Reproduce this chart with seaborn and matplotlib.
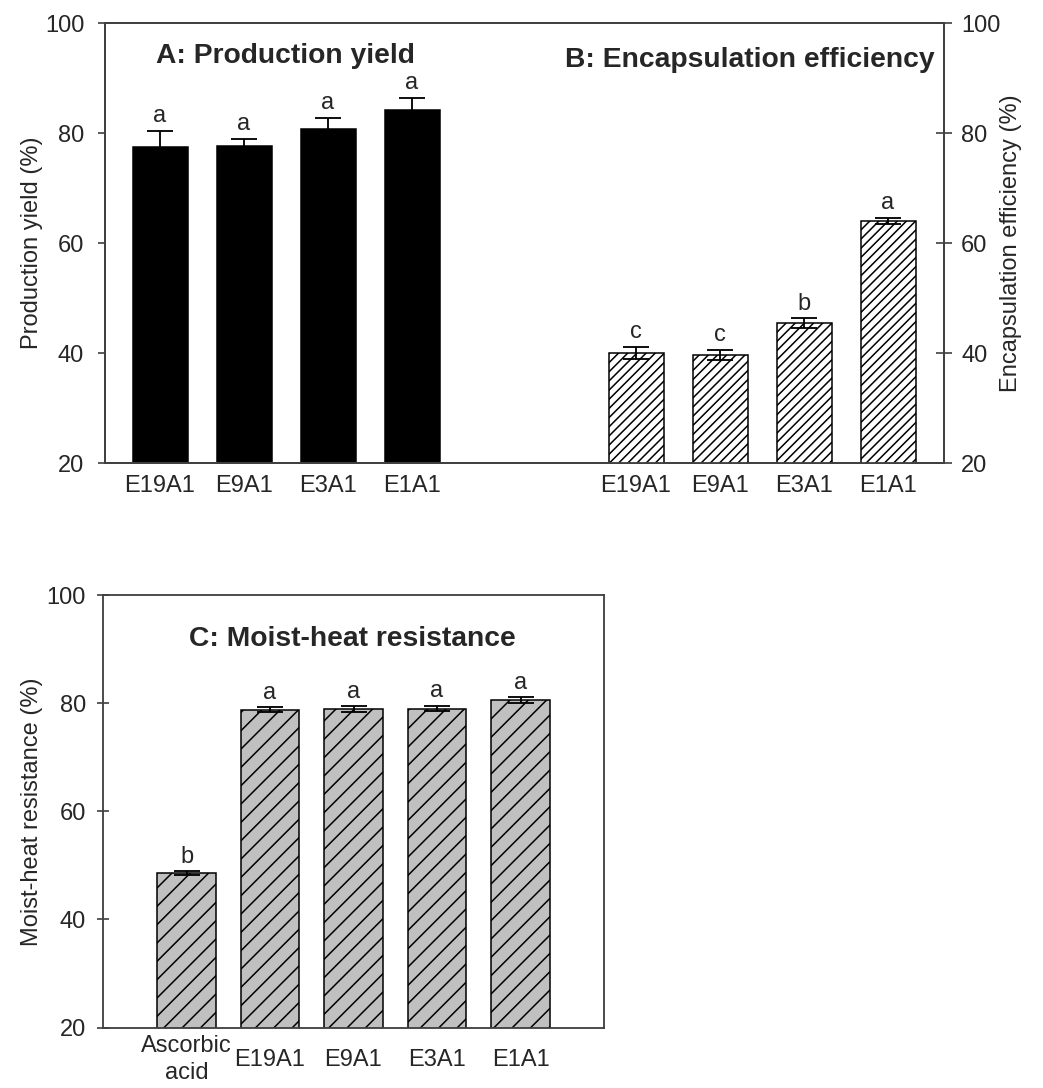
import numpy as np
import matplotlib
matplotlib.use('Agg')
import matplotlib.pyplot as plt
import seaborn as sns

# ---------------- data ----------------
samples = ['E19A1', 'E9A1', 'E3A1', 'E1A1']
yield_mean = [77.4, 77.6, 80.8, 84.1]
yield_err = [3.0, 1.4, 2.0, 2.3]
yield_letters = ['a', 'a', 'a', 'a']

ee_mean = [40.0, 39.6, 45.4, 64.0]
ee_err = [1.1, 0.9, 0.9, 0.6]
ee_letters = ['c', 'c', 'b', 'a']

mh_cats = ['Ascorbic\nacid', 'E19A1', 'E9A1', 'E3A1', 'E1A1']
mh_mean = [48.6, 78.8, 78.9, 79.0, 80.5]
mh_err = [0.3, 0.45, 0.5, 0.45, 0.55]
mh_letters = ['b', 'a', 'a', 'a', 'a']

y_ticks = [20, 40, 60, 80, 100]

# ---------------- style ----------------
DPI = 110
W, H = 1043, 1088
sns.set_style('white')
plt.rcParams['font.family'] = ['Liberation Sans', 'DejaVu Sans']
plt.rcParams['hatch.color'] = 'black'
plt.rcParams['hatch.linewidth'] = 1.0

SPINE = '#404040'
FS = 15.5
TITLE_FS = 18.5

fig = plt.figure(figsize=(W / DPI, H / DPI), dpi=DPI)


def px_axes(l, r, t, b):
    return fig.add_axes([l / W, 1 - b / H, (r - l) / W, (b - t) / H])


def style_spines(a):
    for s in a.spines.values():
        s.set_visible(True)
        s.set_color(SPINE)
        s.set_linewidth(1.2)


# ---------------- top panel (A + B) ----------------
ax = px_axes(105, 944, 23, 463)
ax2 = ax.twinx()

posA = np.arange(len(samples), dtype=float)
posB = posA + 5.667

sns.barplot(x=posA, y=yield_mean, native_scale=True, width=0.655,
            color='black', saturation=1, edgecolor='black', linewidth=1,
            errorbar=None, ax=ax)
ax.errorbar(posA, yield_mean, yerr=yield_err, fmt='none', ecolor='black',
            elinewidth=1.2, capsize=8.8, capthick=1.2)

sns.barplot(x=posB, y=ee_mean, native_scale=True, width=0.655,
            color='white', saturation=1, edgecolor='black', linewidth=1,
            errorbar=None, ax=ax2)
for p in ax2.patches:
    p.set_hatch('////')
ax2.errorbar(posB, ee_mean, yerr=ee_err, fmt='none', ecolor='black',
             elinewidth=1.2, capsize=8.8, capthick=1.2)

for x, m, e, t in zip(posA, yield_mean, yield_err, yield_letters):
    ax.text(x, m + e + 1.6, t, ha='center', va='baseline', fontsize=FS)
for x, m, e, t in zip(posB, ee_mean, ee_err, ee_letters):
    ax2.text(x, m + e + 1.6, t, ha='center', va='baseline', fontsize=FS)

for a in (ax, ax2):
    a.set_ylim(20, 100)
    a.set_yticks(y_ticks)
ax.set_xlim(-0.655, 9.333)
ax.set_xticks(np.concatenate([posA, posB]), labels=samples + samples)

style_spines(ax)
style_spines(ax2)
ax.tick_params(axis='y', direction='out', length=4.6, width=1.1, pad=9,
               color=SPINE, labelsize=FS, left=True)
ax.tick_params(axis='x', length=0, pad=8, labelsize=FS)
ax2.tick_params(axis='y', direction='inout', length=10.5, width=1.1, pad=6,
                color=SPINE, labelsize=FS, right=True)

ax.set_xlabel('')
ax.set_ylabel('Production yield (%)', fontsize=FS)
ax.yaxis.set_label_coords(-0.074, 0.5)
ax2.set_ylabel('Encapsulation efficiency (%)', fontsize=FS)
ax2.yaxis.set_label_coords(1.0667, 0.5)

ax.text(0.0608, 0.909, 'A: Production yield', transform=ax.transAxes,
        ha='left', va='baseline', fontsize=TITLE_FS, fontweight='bold')
ax.text(0.989, 0.90, 'B: Encapsulation efficiency', transform=ax.transAxes,
        ha='right', va='baseline', fontsize=TITLE_FS, fontweight='bold')

# ---------------- bottom panel (C) ----------------
ax3 = px_axes(103, 604, 595, 1027.5)
sns.barplot(x=mh_cats, y=mh_mean, order=mh_cats, width=0.7,
            color='#c0c0c0', saturation=1, edgecolor='black', linewidth=1,
            errorbar=None, ax=ax3)
for p in ax3.patches:
    p.set_hatch('//')
posC = np.arange(len(mh_cats))
ax3.errorbar(posC, mh_mean, yerr=mh_err, fmt='none', ecolor='black',
             elinewidth=1.2, capsize=8.8, capthick=1.2)
for x, m, e, t in zip(posC, mh_mean, mh_err, mh_letters):
    ax3.text(x, m + e + 1.6, t, ha='center', va='baseline', fontsize=FS)

ax3.set_ylim(20, 100)
ax3.set_yticks(y_ticks)
ax3.set_xlim(-1, 5)
style_spines(ax3)
ax3.tick_params(axis='y', direction='inout', length=8.5, width=1.1, pad=7,
                color=SPINE, labelsize=FS, left=True)
ax3.tick_params(axis='x', length=0, pad=21, labelsize=FS)
for lbl in ax3.get_xticklabels():
    lbl.set_va('center')
    lbl.set_linespacing(1.3)
ax3.set_xlabel('')
ax3.set_ylabel('Moist-heat resistance (%)', fontsize=FS)
ax3.yaxis.set_label_coords(-0.12, 0.5)
ax3.text(0.1717, 0.882, 'C: Moist-heat resistance', transform=ax3.transAxes,
         ha='left', va='baseline', fontsize=TITLE_FS, fontweight='bold')

fig.savefig('out.png', dpi=DPI)
